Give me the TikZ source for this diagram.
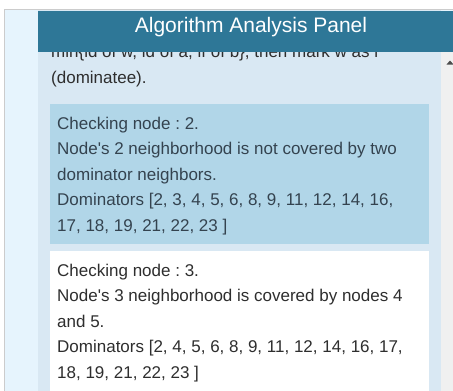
\documentclass[tikz,border=0pt]{standalone}
\usepackage{fontspec}
\setmainfont{Liberation Sans}[Ligatures=TeXOff]
\usepackage{tikz}
\frenchspacing

\definecolor{framegray}{HTML}{CCCCCC}
\definecolor{sidestrip}{HTML}{E6F4FD}
\definecolor{panelbg}{HTML}{D9E8F3}
\definecolor{panelhead}{HTML}{2E7797}
\definecolor{infobox}{HTML}{B1D6E8}
\definecolor{scrollgray}{HTML}{F0F0F0}
\definecolor{infotext}{HTML}{34434F}
\definecolor{plaintext}{HTML}{2E2E2E}

\begin{document}
\begin{tikzpicture}[x=1pt,y=-1pt,
  line/.style={anchor=base west,inner sep=0pt,font=\fontsize{17}{20}\selectfont}]
  \useasboundingbox (0,0) rectangle (453,391);
  \fill[white] (0,0) rectangle (453,391);
  \fill[sidestrip] (4,9) rectangle (453,391);
  \fill[panelbg] (38,10) rectangle (441,391);
  \fill[scrollgray] (441,52) rectangle (453,391);
  \draw[framegray] (4.5,391) -- (4.5,9.5) -- (453,9.5);
  \fill[black!70] (446.5,64.5) -- (450,60.5) -- (453.5,64.5) -- cycle;
  % text scrolled up under the header
  \node[line,text=plaintext] (cut) at (51,57.4) {min\{id of w, id of a, if of b\}, then mark w as i};
  \node[line,text=plaintext] (dom) at (51,83) {(dominatee).};
  % step boxes
  \fill[infobox] (50,104) rectangle (429,244);
  \fill[white] (50,251) rectangle (429,391);
  \foreach \k/\s in {0/{Checking node : 2.},1/{Node's 2 neighborhood is not covered by two},2/{dominator neighbors.},3/{Dominators [2, 3, 4, 5, 6, 8, 9, 11, 12, 14, 16,},4/{17, 18, 19, 21, 22, 23 ]}}
  {
    \node[line,text=infotext] (a\k) at (57,129+25.6*\k) {\s};
  }
  \foreach \k/\s in {0/{Checking node : 3.},1/{Node's 3 neighborhood is covered by nodes 4},2/{and 5.},3/{Dominators [2, 4, 5, 6, 8, 9, 11, 12, 14, 16, 17,},4/{18, 19, 21, 22, 23 ]}}
  {
    \node[line,text=plaintext] (b\k) at (57,276+25.6*\k) {\s};
  }
  % header on top
  \fill[panelhead] (38,11) rectangle (453,52);
  \node[anchor=base,inner sep=0pt,text=white,font=\fontsize{21}{24}\selectfont] (title) at (251,32) {Algorithm Analysis Panel};
\end{tikzpicture}
\end{document}
